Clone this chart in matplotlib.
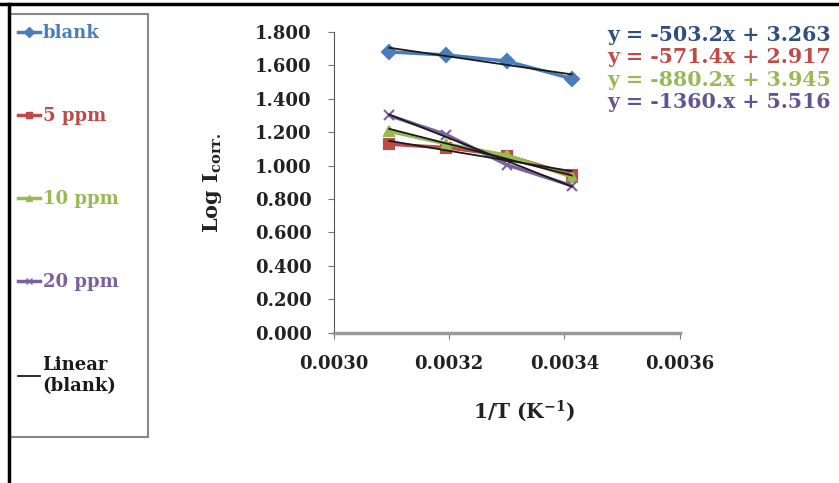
import matplotlib.pyplot as plt
from matplotlib.patches import Rectangle
from matplotlib.lines import Line2D

# data
inv_T = [0.003096, 0.003195, 0.003300, 0.003413]
blank = [1.680, 1.662, 1.625, 1.520]
ppm5 = [1.128, 1.108, 1.060, 0.945]
ppm10 = [1.205, 1.130, 1.062, 0.932]
ppm20 = [1.300, 1.185, 1.005, 0.880]

labels = ["blank", "5 ppm", "10 ppm", "20 ppm"]
colors = ["#4a7ebb", "#be4b48", "#98b954", "#7d60a0"]
markers = ["D", "s", "^", "x"]
slopes = [-503.2, -571.4, -880.2, -1360.0]
intercepts = [3.263, 2.917, 3.945, 5.516]
eq_texts = ["y = -503.2x + 3.263", "y = -571.4x + 2.917",
            "y = -880.2x + 3.945", "y = -1360.x + 5.516"]
eq_colors = ["#2f4f80", "#be4b48", "#98b954", "#5e5596"]

plt.rcParams['font.family'] = 'DejaVu Serif'
plt.rcParams['font.weight'] = 'bold'
plt.rcParams['mathtext.fontset'] = 'dejavuserif'

fig = plt.figure(figsize=(8.39, 4.83), dpi=100)
ax = fig.add_axes([0.398, 0.311, 0.412, 0.623])

series = [blank, ppm5, ppm10, ppm20]
for ys, lab, c, m in zip(series, labels, colors, markers):
    ax.plot(inv_T, ys, color=c, marker=m, markersize=7, linewidth=2.5,
            markeredgewidth=1.5, label=lab)

# trendlines
for s, b in zip(slopes, intercepts):
    xs = [inv_T[0], inv_T[-1]]
    ax.plot(xs, [s * x + b for x in xs], color="#1a1a1a", linewidth=1.3)

ax.set_xlim(0.0030, 0.0036)
ax.set_ylim(0, 1.8)
ax.set_xticks([0.0030, 0.0032, 0.0034, 0.0036])
ax.set_xticklabels(["0.0030", "0.0032", "0.0034", "0.0036"])
ax.set_yticks([i * 0.2 for i in range(10)])
ax.set_yticklabels(["%.3f" % (i * 0.2) for i in range(10)])
ax.tick_params(labelsize=13, length=4, color="#777777", labelcolor="#222222")
ax.tick_params(axis='x', pad=12)
ax.tick_params(axis='y', pad=12)
ax.spines['top'].set_visible(False)
ax.spines['right'].set_visible(False)
ax.spines['left'].set_color("#555555")
ax.spines['bottom'].set_color("#999999")
ax.spines['bottom'].set_linewidth(2.5)

ax.set_ylabel("Log I$_{\\mathbf{corr.}}$", fontsize=15, fontweight='bold', labelpad=22,
              color="#222222")
fig.text(0.625, 0.148, "1/T (K$^{\\mathbf{-1}}$)", fontsize=14.5, fontweight='bold',
         ha='center', va='center', color="#222222")

for i, (t, c) in enumerate(zip(eq_texts, eq_colors)):
    fig.text(0.99, 0.927 - i * 0.046, t, fontsize=14.8, fontweight='bold', color=c,
             ha='right', va='center')

# legend
handles = [Line2D([], [], color=c, marker=m, markersize=5, linewidth=2.5)
           for c, m in zip(colors, markers)]
handles.append(Line2D([], [], color="#1a1a1a", linewidth=1.3))
leg_labels = labels + ["Linear\n(blank)"]
leg = fig.legend(handles, leg_labels, loc='upper left', bbox_to_anchor=(0.013, 0.965),
                 frameon=False, fontsize=13, labelspacing=3.6, handlelength=1.2,
                 handletextpad=0.15, borderaxespad=0)
for txt, c in zip(leg.get_texts(), colors + ["#1a1a1a"]):
    txt.set_color(c)

fig.patches.append(Rectangle((0.012, 0.095), 0.164, 0.875, transform=fig.transFigure,
                             fill=False, edgecolor="#888888", linewidth=1.5))
# outer frame lines
fig.add_artist(Line2D([0, 1], [0.992, 0.992], color="black", linewidth=2.5,
                      transform=fig.transFigure))
fig.add_artist(Line2D([0.0105, 0.0105], [0, 0.992], color="black", linewidth=2.5,
                      transform=fig.transFigure))

fig.savefig("out.png", dpi=100)
